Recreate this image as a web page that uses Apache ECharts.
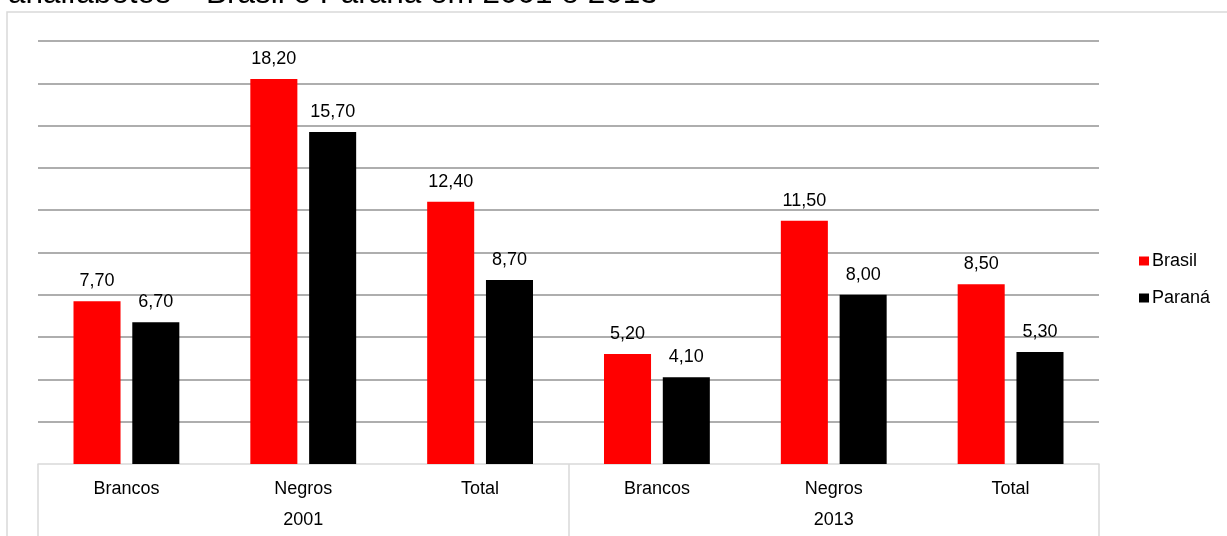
<!DOCTYPE html>
<html>
<head>
<meta charset="utf-8">
<script src="https://cdn.jsdelivr.net/npm/echarts@6/dist/echarts.min.js"></script>
<style>
  html, body { margin: 0; padding: 0; background: #fff; }
  #chart { width: 1227px; height: 536px; }
</style>
</head>
<body>
<div id="chart"></div>
<script>
// Analfabetismo (%) por cor – Brasil e Paraná, 2001 e 2013
const titleText = 'analfabetos – Brasil e Paraná em 2001 e 2013';
const categories = ['Brancos', 'Negros', 'Total', 'Brancos', 'Negros', 'Total'];
const years = ['2001', '2013'];
const seriesNames = ['Brasil', 'Paraná'];
const brasil = [7.7, 18.2, 12.4, 5.2, 11.5, 8.5];
const parana = [6.7, 15.7, 8.7, 4.1, 8.0, 5.3];
const colors = ['#ff0000', '#000000'];

const FONT = '"Liberation Sans", Arial, sans-serif';
const fmt = p => p.value.toFixed(2).replace('.', ',');

const chart = echarts.init(document.getElementById('chart'), null, { renderer: 'canvas' });

function barSeries(name, data, color) {
  return {
    name: name,
    type: 'bar',
    data: data,
    barWidth: '26.6%',
    barGap: '25%',
    itemStyle: { color: color },
    label: {
      show: true,
      position: 'top',
      distance: 11,
      formatter: fmt,
      color: '#000',
      fontFamily: FONT,
      fontSize: 18
    }
  };
}

chart.setOption({
  animation: false,
  backgroundColor: '#fff',
  graphic: [
    {
      type: 'rect',
      shape: { x: 7, y: 12, width: 1300, height: 600 },
      style: { fill: 'none', stroke: '#d9d9d9', lineWidth: 1.5 },
      z: -10
    },
    {
      type: 'text',
      x: 8, y: -6,
      style: {
        text: titleText,
        fontFamily: FONT,
        fontSize: 31.5,
        fill: '#000',
        verticalAlign: 'middle'
      }
    }
  ],
  legend: {
    orient: 'vertical',
    left: 1134,
    top: 247,
    itemWidth: 10,
    itemHeight: 9,
    itemGap: 19,
    icon: 'rect',
    data: seriesNames,
    textStyle: { fontFamily: FONT, fontSize: 18, color: '#000', padding: [0, 0, 0, -2] }
  },
  grid: { left: 38, right: 128, top: 41, bottom: 72, containLabel: false },
  xAxis: [
    {
      type: 'category',
      data: categories,
      position: 'bottom',
      axisLine: { show: true, lineStyle: { color: '#d9d9d9', width: 1.5 } },
      axisTick: { show: false },
      axisLabel: { margin: 16, fontFamily: FONT, fontSize: 18, color: '#000' }
    },
    {
      type: 'category',
      data: years,
      position: 'bottom',
      boundaryGap: true,
      axisLine: { show: false },
      axisTick: { show: true, length: 90, inside: false, lineStyle: { color: '#d9d9d9', width: 1.5 } },
      axisLabel: { margin: 47, fontFamily: FONT, fontSize: 18, color: '#000' }
    }
  ],
  yAxis: {
    type: 'value',
    min: 0,
    max: 20,
    interval: 2,
    axisLine: { show: false },
    axisTick: { show: false },
    axisLabel: { show: false },
    splitLine: { show: true, showMinLine: false, lineStyle: { color: '#939393', width: 1.5 } }
  },
  series: [
    barSeries(seriesNames[0], brasil, colors[0]),
    barSeries(seriesNames[1], parana, colors[1])
  ]
});
</script>
</body>
</html>
